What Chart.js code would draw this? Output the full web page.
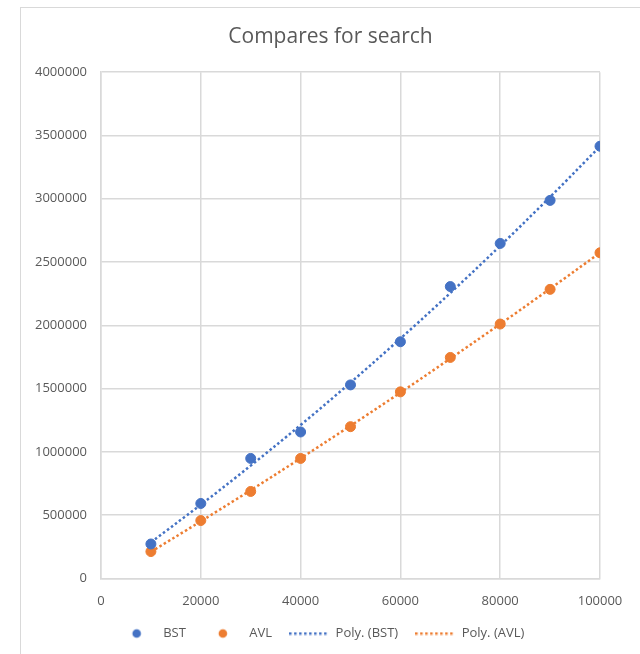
<!DOCTYPE html>
<html>
<head>
<meta charset="utf-8">
<script src="https://cdn.jsdelivr.net/npm/chart.js@4/dist/chart.umd.min.js"></script>
<style>
  html, body { margin: 0; padding: 0; background: #fff; overflow: hidden; }
  #box {
    position: absolute; left: 20px; top: 7px;
    width: 640px; height: 660px;
    border: 1px solid #d9d9d9; background: #fff;
  }
  #wrap { position: absolute; left: 0; top: 0; width: 619px; height: 642px; }
</style>
</head>
<body>
<div id="box"><div id="wrap"><canvas id="chart"></canvas></div></div>
<script>
// n values searched
var sizes = [10000, 20000, 30000, 40000, 50000, 60000, 70000, 80000, 90000, 100000];
// compares
var bst = [272000, 592000, 948000, 1157000, 1529000, 1870000, 2306000, 2647000, 2987000, 3415000];
var avl = [212000, 457000, 687000, 948000, 1199000, 1474000, 1746000, 2010000, 2284000, 2573000];
// order 2 polynomial trend lines, as drawn
var polyBst = [286000, 582000, 891000, 1212000, 1547000, 1895000, 2255000, 2628000, 3014000, 3413000];
var polyAvl = [210000, 451000, 697000, 949000, 1206000, 1468000, 1737000, 2010000, 2289000, 2573000];

var blue = '#4472C4';
var orange = '#ED7D31';
var grey = '#595959';

function pts(ys) {
  return sizes.map(function(x, i) { return { x: x, y: ys[i] }; });
}

// little legend swatches
function dotSwatch(colour) {
  var c = document.createElement('canvas');
  c.width = 12; c.height = 12;
  var g = c.getContext('2d');
  g.fillStyle = colour;
  g.beginPath();
  g.arc(6, 6, 4.3, 0, Math.PI * 2);
  g.fill();
  return c;
}
function dashSwatch(colour) {
  var c = document.createElement('canvas');
  c.width = 40; c.height = 4;
  var g = c.getContext('2d');
  g.strokeStyle = colour;
  g.lineWidth = 2.5;
  g.setLineDash([2.5, 2.5]);
  g.beginPath();
  g.moveTo(0, 2);
  g.lineTo(40, 2);
  g.stroke();
  return c;
}
var swatches = [dotSwatch(blue), dotSwatch(orange), dashSwatch(blue), dashSwatch(orange)];

// title and legend are centred on the whole box, not the plot
var nudge = {
  id: 'nudge',
  afterLayout: function(c) {
    c.titleBlock.left += 20; c.titleBlock.right += 20;
    c.legend.left += 10; c.legend.right += 10;
  }
};

Chart.defaults.font.family = '"Open Sans", "Liberation Sans", sans-serif';
Chart.defaults.color = grey;

var ctx = document.getElementById('chart');
var chart = new Chart(ctx, {
  type: 'scatter',
  data: {
    datasets: [{
      label: 'BST',
      data: pts(bst),
      backgroundColor: blue,
      borderColor: blue,
      pointRadius: 5,
      order: 1
    }, {
      label: 'AVL',
      data: pts(avl),
      backgroundColor: orange,
      borderColor: orange,
      pointRadius: 5,
      order: 1
    }, {
      label: 'Poly. (BST)',
      type: 'line',
      data: pts(polyBst),
      borderColor: blue,
      backgroundColor: blue,
      borderWidth: 2.5,
      borderDash: [2.5, 2.5],
      pointRadius: 0,
      tension: 0.4,
      fill: false,
      order: 2
    }, {
      label: 'Poly. (AVL)',
      type: 'line',
      data: pts(polyAvl),
      borderColor: orange,
      backgroundColor: orange,
      borderWidth: 2.5,
      borderDash: [2.5, 2.5],
      pointRadius: 0,
      tension: 0.4,
      fill: false,
      order: 2
    }]
  },
  plugins: [nudge],
  options: {
    responsive: true,
    maintainAspectRatio: false,
    animation: false,
    layout: { padding: { top: 8, right: 40, bottom: 0, left: 0 } },
    plugins: {
      title: {
        display: true,
        text: 'Compares for search',
        color: grey,
        font: { size: 21, weight: 'normal' },
        padding: { top: 8, bottom: 23 }
      },
      legend: {
        position: 'bottom',
        labels: {
          usePointStyle: true,
          pointStyleWidth: 40,
          boxHeight: 6,
          padding: 17,
          color: grey,
          font: { size: 13 },
          generateLabels: function(c) {
            var items = Chart.defaults.plugins.legend.labels.generateLabels(c);
            items.forEach(function(it) { it.pointStyle = swatches[it.datasetIndex]; });
            return items;
          }
        }
      },
      tooltip: { enabled: false }
    },
    scales: {
      x: {
        type: 'linear',
        min: 0,
        max: 100000,
        ticks: {
          stepSize: 20000,
          padding: 15,
          color: grey,
          font: { size: 13 },
          callback: function(v) { return String(v); }
        },
        grid: { color: '#d9d9d9', drawTicks: false, lineWidth: 1.5 },
        border: { color: '#d9d9d9', width: 1.5 },
        afterFit: function(scale) { scale.height = scale.height - 14; }
      },
      y: {
        min: 0,
        max: 4000000,
        ticks: {
          stepSize: 500000,
          padding: 14,
          color: grey,
          font: { size: 13 },
          callback: function(v) { return String(v); }
        },
        grid: { color: '#d9d9d9', drawTicks: false, lineWidth: 1.5 },
        border: { color: '#d9d9d9', width: 1.5 },
        afterFit: function(scale) { scale.width = 80; }
      }
    }
  }
});
</script>
</body>
</html>
